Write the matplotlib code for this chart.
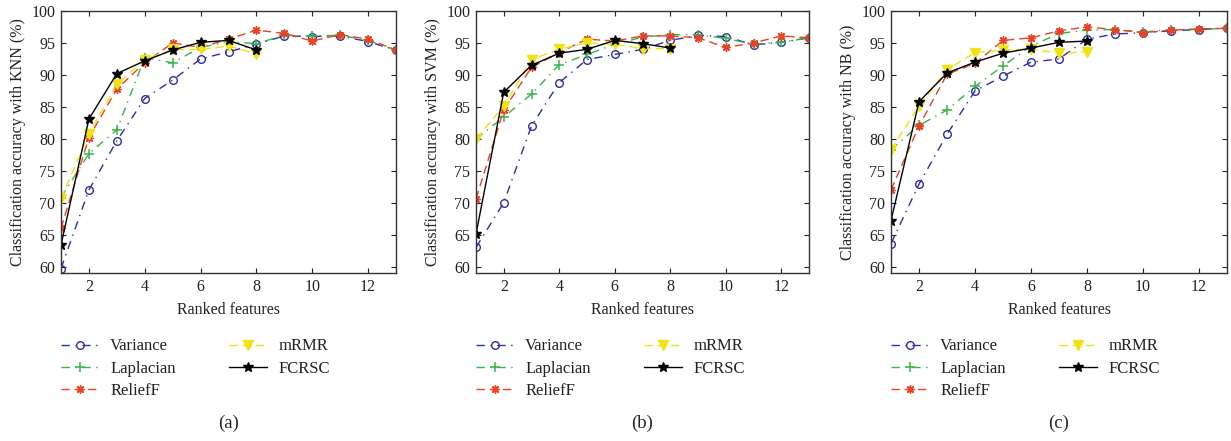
import matplotlib
matplotlib.use("Agg")
import matplotlib.pyplot as plt
import numpy as np

plt.rcParams['font.family'] = ['Liberation Serif', 'DejaVu Serif']

features = list(range(1, 14))
features8 = list(range(1, 9))
xticks = [2, 4, 6, 8, 10, 12]
yticks = [60, 65, 70, 75, 80, 85, 90, 95, 100]

methods = ["Variance", "Laplacian", "ReliefF", "mRMR", "FCRSC"]
classifiers = ["KNN", "SVM", "NB"]
panel_labels = ["(a)", "(b)", "(c)"]

# KNN
var_knn = [59.7, 72.0, 79.7, 86.3, 89.2, 92.5, 93.6, 94.8, 96.1, 96.0, 96.1, 95.2, 93.9]
lap_knn = [70.8, 77.7, 81.4, 92.7, 91.9, 94.3, 95.2, 94.9, 96.2, 96.1, 96.2, 95.4, 93.9]
rel_knn = [66.0, 80.2, 87.8, 91.9, 95.0, 94.3, 95.6, 97.0, 96.5, 95.3, 96.3, 95.6, 93.9]
mrmr_knn = [70.6, 80.8, 88.5, 92.4, 94.0, 94.0, 94.5, 93.3]
fcrsc_knn = [63.4, 83.1, 90.2, 92.2, 93.9, 95.1, 95.4, 93.9]

# SVM
var_svm = [63.0, 70.0, 82.0, 88.8, 92.4, 93.2, 94.0, 95.4, 96.2, 96.0, 94.7, 95.1, 95.8]
lap_svm = [80.0, 83.4, 87.0, 91.6, 93.2, 94.8, 95.9, 96.3, 96.3, 95.7, 94.8, 95.1, 95.8]
rel_svm = [70.6, 84.5, 91.2, 93.5, 95.6, 95.3, 96.1, 96.1, 95.8, 94.3, 95.0, 96.1, 95.8]
mrmr_svm = [80.0, 85.1, 92.4, 94.0, 95.0, 94.8, 94.1, 94.1]
fcrsc_svm = [65.1, 87.3, 91.5, 93.4, 94.0, 95.4, 94.9, 94.2]

# NB
var_nb = [63.6, 72.9, 80.7, 87.5, 89.8, 92.0, 92.5, 95.6, 96.4, 96.6, 96.9, 97.1, 97.3]
lap_nb = [78.3, 82.1, 84.5, 88.2, 91.4, 94.5, 96.5, 97.0, 97.1, 96.7, 97.1, 97.1, 97.3]
rel_nb = [72.0, 82.0, 90.1, 91.8, 95.4, 95.8, 96.9, 97.5, 97.1, 96.6, 97.0, 97.2, 97.3]
mrmr_nb = [78.3, 85.1, 90.8, 93.5, 93.9, 94.0, 93.4, 93.6]
fcrsc_nb = [67.2, 85.8, 90.3, 92.0, 93.4, 94.2, 95.1, 95.3]

data = [
    [var_knn, lap_knn, rel_knn, mrmr_knn, fcrsc_knn],
    [var_svm, lap_svm, rel_svm, mrmr_svm, fcrsc_svm],
    [var_nb, lap_nb, rel_nb, mrmr_nb, fcrsc_nb],
]

styles = [
    dict(color='#2e2ea6', linestyle=(0, (6, 4, 1, 4)), marker='o', ms=5.5,
         mfc='none', mec='#2e2ea6', mew=1.0),
    dict(color='#35b545', linestyle=(0, (6, 4, 1, 4)), marker='+', ms=6.5,
         mew=1.1),
    dict(color='#ec4125', linestyle=(0, (6, 3.5)), marker=(8, 2, 0), ms=6,
         mew=1.0),
    dict(color='#f1e212', linestyle=(0, (6, 3.5)), marker='v', ms=6.5,
         mfc='#f1e212', mec='#f1e212'),
    dict(color='black', linestyle='-', marker='*', ms=7.5, mfc='black',
         mec='black'),
]

W, H = 1231, 441
fig = plt.figure(figsize=(W / 100, H / 100), dpi=100)

lefts = [61, 476, 891]
rights = [396, 809, 1227]
top_px, bot_px = 11, 273

for i in range(3):
    ax = fig.add_axes([lefts[i] / W, 1 - bot_px / H,
                       (rights[i] - lefts[i]) / W, (bot_px - top_px) / H])
    for j in range(5):
        ys = data[i][j]
        xs = features if len(ys) == 13 else features8
        ax.plot(xs, ys, lw=1.0, label=methods[j], **styles[j])
    ax.set_xlim(1, 13)
    ax.set_ylim(59, 100)
    ax.set_xticks(xticks)
    ax.set_yticks(yticks)
    ax.tick_params(direction='in', length=3.5, width=0.8, top=True,
                   right=True, labelsize=11.5, colors='#222222', pad=4)
    for sp in ax.spines.values():
        sp.set_linewidth(1.0)
        sp.set_color('#333333')
    ax.set_ylabel(f"Classification accuracy with {classifiers[i]} (%)",
                  fontsize=11.5, color='#222222', labelpad=4)
    ax.set_xlabel("Ranked features", fontsize=11.5, color='#222222', labelpad=5)
    leg = ax.legend(loc='upper left', bbox_to_anchor=(0.0, -0.25), ncol=2,
                    frameon=False, fontsize=12, handlelength=2.3,
                    handletextpad=0.65, columnspacing=3.2, labelspacing=0.38,
                    borderaxespad=0, borderpad=0)
    for t in leg.get_texts():
        t.set_color('#222222')
    ax.text(0.5, -0.573, panel_labels[i], transform=ax.transAxes,
            ha='center', va='center', fontsize=13.5, color='#222222')

fig.savefig("out.png", dpi=100)
